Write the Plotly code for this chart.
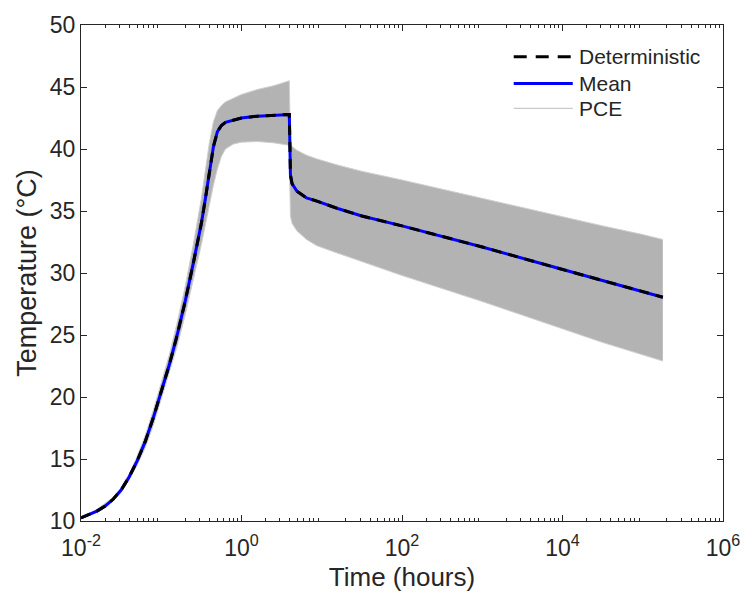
import plotly.graph_objects as go

# ---- data ----
time_hours = [0.01, 0.0126, 0.0158, 0.02, 0.0251, 0.0316, 0.0398, 0.0501, 0.0631, 0.0794,
              0.1, 0.126, 0.158, 0.2, 0.251, 0.316, 0.355, 0.398, 0.447, 0.501,
              0.562, 0.631, 0.794, 1.0, 1.58, 2.51, 3.94, 3.98, 4.03, 4.07,
              4.27, 4.9, 6.46, 8.71, 15.8, 31.6, 100, 1000, 7586, 31623,
              100000, 177828]

deterministic = [10.25, 10.5, 10.8, 11.2, 11.75, 12.5, 13.55, 14.85, 16.4, 18.3,
                 20.4, 22.6, 25.0, 27.8, 30.8, 34.0, 36.0, 38.1, 40.2, 41.4,
                 41.9, 42.15, 42.35, 42.5, 42.65, 42.72, 42.78, 41.5, 39.0, 37.9,
                 37.2, 36.6, 36.06, 35.8, 35.2, 34.6, 33.8, 32.1, 30.5, 29.4,
                 28.5, 28.05]

mean = [10.25, 10.5, 10.8, 11.2, 11.75, 12.5, 13.55, 14.85, 16.4, 18.3,
        20.4, 22.6, 25.0, 27.8, 30.8, 34.0, 36.0, 38.1, 40.2, 41.4,
        41.9, 42.15, 42.35, 42.5, 42.65, 42.72, 42.78, 41.5, 39.0, 37.9,
        37.2, 36.6, 36.06, 35.8, 35.2, 34.6, 33.8, 32.1, 30.5, 29.4,
        28.5, 28.05]

pce_upper = [10.3, 10.58, 10.95, 11.4, 11.9, 12.65, 13.8, 15.2, 16.9, 18.9,
             21.1, 23.4, 26.0, 29.0, 32.3, 36.0, 38.3, 40.5, 42.2, 43.1,
             43.5, 43.8, 44.1, 44.4, 44.8, 45.1, 45.5, 43.5, 41.2, 40.6,
             40.2, 39.9, 39.5, 39.2, 38.7, 38.2, 37.5, 36.0, 34.7, 33.8,
             33.1, 32.7]

pce_lower = [10.2, 10.45, 10.7, 11.05, 11.6, 12.3, 13.3, 14.5, 15.9, 17.7,
             19.8, 21.9, 24.1, 26.7, 29.4, 32.3, 33.9, 35.5, 37.1, 38.4,
             39.4, 40.0, 40.4, 40.55, 40.6, 40.5, 40.3, 38.0, 35.3, 34.6,
             34.0, 33.4, 32.7, 32.2, 31.6, 30.9, 29.8, 27.7, 25.8, 24.4,
             23.4, 22.9]

legend_labels = ["Deterministic", "Mean", "PCE"]

x_tick_vals = [1e-2, 1e0, 1e2, 1e4, 1e6]
x_tick_text = ["10<sup>-2</sup>", "10<sup>0</sup>", "10<sup>2</sup>", "10<sup>4</sup>", "10<sup>6</sup>"]
y_tick_vals = [10, 15, 20, 25, 30, 35, 40, 45, 50]

FONT = "Liberation Sans, Arial, sans-serif"
TXT = "#262626"
DET_STYLE = dict(color="black", width=3, dash="10px,7px")
MEAN_STYLE = dict(color="#0000ff", width=3)
PCE_STYLE = dict(color="#bdbdbd", width=1)

fig = go.Figure()

# PCE band (dense realisations)
fig.add_trace(go.Scatter(x=time_hours, y=pce_upper, mode="lines",
                         line=dict(color="#cfcfcf", width=1), showlegend=False,
                         hoverinfo="skip"))
fig.add_trace(go.Scatter(x=time_hours, y=pce_lower, mode="lines",
                         line=dict(color="#cfcfcf", width=1), fill="tonexty",
                         fillcolor="#b3b3b3", showlegend=False, hoverinfo="skip"))
fig.add_trace(go.Scatter(x=time_hours, y=mean, mode="lines", name="Mean",
                         line=MEAN_STYLE, showlegend=False))
fig.add_trace(go.Scatter(x=time_hours, y=deterministic, mode="lines", name="Deterministic",
                         line=DET_STYLE, showlegend=False))

# manual legend (MATLAB-style long line samples)
styles = [dict(color="black", width=3, dash="13px,9px"), MEAN_STYLE, PCE_STYLE]
row_y = [0.936, 0.882, 0.832]
for lab, st, yy in zip(legend_labels, styles, row_y):
    fig.add_shape(type="line", xref="paper", yref="paper", x0=0.674, x1=0.766,
                  y0=yy, y1=yy, line=st)
    fig.add_annotation(xref="paper", yref="paper", x=0.772, y=yy, text=lab,
                       showarrow=False, xanchor="left", yanchor="middle",
                       font=dict(size=21, color=TXT, family=FONT))

minor_vals = [m * 10 ** k for k in range(-2, 6) for m in range(2, 10)]

fig.update_layout(
    width=752, height=605,
    margin=dict(l=81, r=20, t=18, b=84),
    paper_bgcolor="white", plot_bgcolor="white",
    font=dict(family=FONT, size=23, color=TXT),
    showlegend=False,
    xaxis=dict(type="log", range=[-2, 6], tickvals=x_tick_vals, ticktext=x_tick_text,
               ticks="inside", ticklen=6, tickcolor=TXT, showline=True, linecolor=TXT,
               linewidth=1, mirror="ticks", showgrid=False, zeroline=False,
               tickfont=dict(size=23), ticklabelstandoff=6,
               title=dict(text="Time (hours)", font=dict(size=26, color=TXT), standoff=8),
               minor=dict(tickvals=minor_vals, ticks="inside", ticklen=3, tickcolor=TXT,
                          showgrid=False)),
    yaxis=dict(range=[10, 50], tickvals=y_tick_vals, ticks="inside", ticklen=6,
               tickcolor=TXT, showline=True, linecolor=TXT, linewidth=1, mirror="ticks",
               showgrid=False, zeroline=False, tickfont=dict(size=23),
               title=dict(text="Temperature (°C)", font=dict(size=27, color=TXT), standoff=5)),
)

fig.write_html("out.html")
